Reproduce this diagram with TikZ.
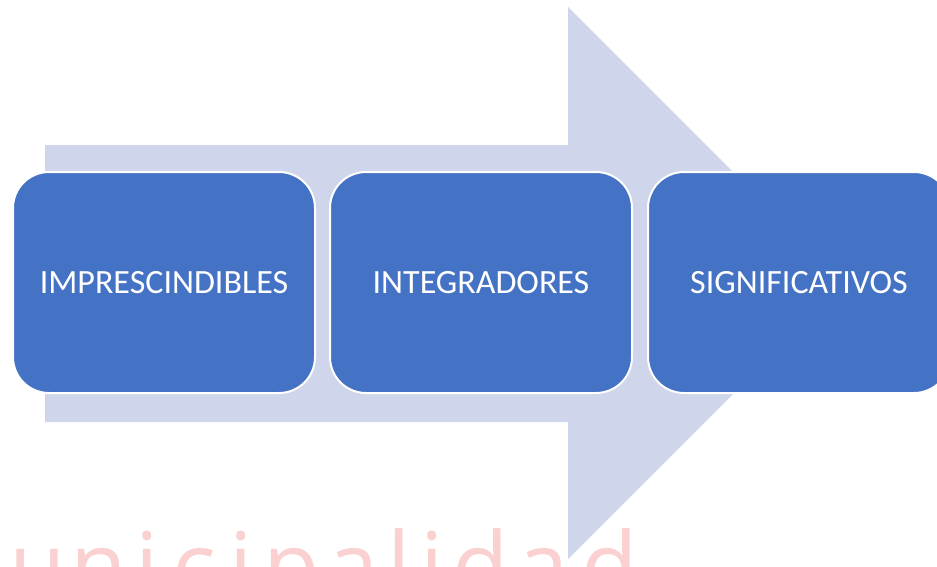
\documentclass[tikz,border=0pt]{standalone}
\usepackage{fontspec}
\setmainfont{Carlito}
\newfontfamily\wmfont{Open Sans}
\usepackage{tikz}
\usetikzlibrary{positioning}
\definecolor{myblue}{RGB}{68,114,196}
\definecolor{arrowfill}{RGB}{207,213,234}
\definecolor{wmpink}{RGB}{250,208,208}
\tikzset{
  stepbox/.style={rectangle, draw=white, fill=myblue, minimum width=302pt, minimum height=221pt,
    rounded corners=36pt, line width=2pt, text=white, font=\fontsize{34}{40}\selectfont, inner sep=0pt},
  wmletter/.style={text=wmpink, font=\wmfont\fontsize{92}{100}\selectfont, anchor=base, inner sep=0pt}
}

\begin{document}
\begin{tikzpicture}[x=1pt, y=-1pt]
  \useasboundingbox (0,0) rectangle (937,566);
  \clip (0,0) rectangle (937,566);
  % faded watermark along the bottom
  \foreach \ch/\xx in {u/38, n/99, i/147, c/194, i/241, p/292, a/353, l/399, i/432, d/481, a/543, d/610} {
    \node[wmletter] (wm\xx) at (\xx,598) {\ch};
  }
  % big background arrow
  \fill[arrowfill] (45,145) -- (568,145) -- (568,7) -- (844,283) -- (568,559) -- (568,422) -- (45,422) -- cycle;
  % the three steps
  \node[stepbox] (imp) at (164,282.5) {IMPRESCINDIBLES};
  \node[stepbox, right=13pt of imp] (integ) {INTEGRADORES};
  \node[stepbox, right=14pt of integ] (signif) {SIGNIFICATIVOS};
\end{tikzpicture}
\end{document}
